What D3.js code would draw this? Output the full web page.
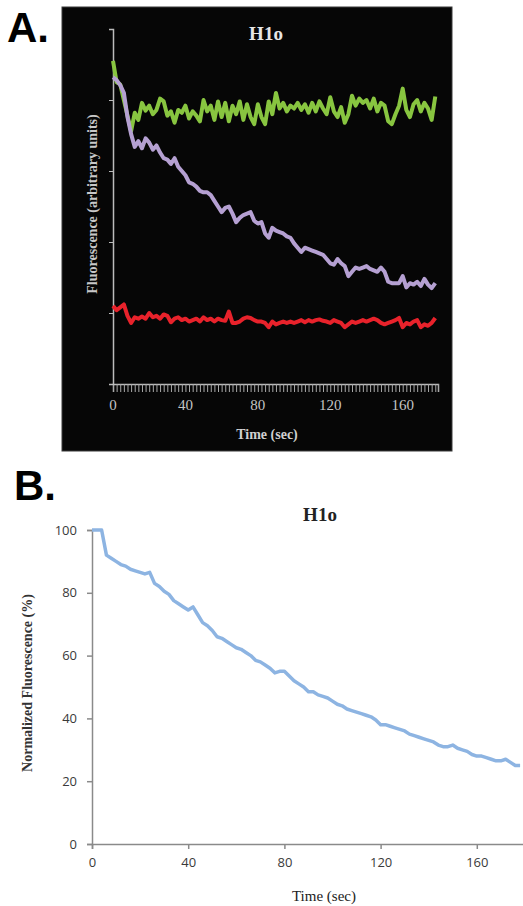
<!DOCTYPE html>
<html>
<head>
<meta charset="utf-8">
<script src="https://cdnjs.cloudflare.com/ajax/libs/d3/7.8.5/d3.min.js"></script>
<style>
  html, body { margin: 0; padding: 0; background: #fff; }
  svg { display: block; }
</style>
</head>
<body>
<div id="chart"></div>
<script>
// sample times (sec), one reading every 2 s
var timeSec = d3.range(0, 180, 2);

// panel A, arbitrary units
var greenA = [
  455, 425, 422, 400, 378, 356, 382, 372, 396, 385,
  392, 380, 386, 402, 398, 378, 384, 368, 386, 382,
  392, 374, 384, 378, 370, 400, 384, 392, 372, 398,
  376, 396, 370, 392, 380, 398, 372, 394, 376, 366,
  394, 376, 366, 398, 380, 410, 388, 396, 384, 392,
  388, 396, 386, 394, 382, 396, 384, 398, 388, 380,
  404, 384, 376, 390, 368, 380, 406, 392, 402, 396,
  400, 388, 402, 384, 396, 392, 370, 366, 380, 392,
  416, 386, 376, 394, 400, 384, 396, 388, 372, 405
];
var purpleA = [
  432, 428, 421, 410, 376, 352, 334, 342, 332, 346,
  340, 330, 336, 326, 318, 316, 310, 318, 306, 300,
  294, 284, 282, 278, 272, 270, 270, 266, 258, 250,
  242, 248, 250, 240, 228, 234, 238, 240, 242, 230,
  226, 228, 212, 206, 220, 216, 214, 212, 208, 206,
  198, 192, 186, 192, 190, 188, 186, 184, 182, 176,
  170, 168, 176, 170, 166, 152, 158, 164, 162, 164,
  166, 162, 160, 158, 164, 158, 144, 142, 142, 142,
  152, 136, 142, 140, 144, 138, 148, 140, 135, 142
];
var redA = [
  110, 104, 108, 112, 96, 86, 94, 92, 95, 92,
  100, 94, 96, 92, 98, 96, 87, 92, 94, 90,
  92, 88, 90, 92, 88, 94, 90, 92, 88, 92,
  90, 89, 102, 86, 86, 88, 92, 94, 93, 90,
  88, 88, 86, 80, 88, 84, 86, 88, 86, 88,
  86, 88, 90, 87, 90, 88, 90, 91, 89, 88,
  86, 90, 88, 86, 80, 84, 88, 86, 88, 90,
  88, 90, 92, 90, 86, 84, 86, 88, 90, 93,
  80, 86, 84, 88, 90, 80, 84, 82, 86, 93
];

// panel B, normalized fluorescence (%)
var normB = [
  100, 100, 100, 92, 91, 90, 89, 88.5, 87.5, 87,
  86.5, 86, 86.5, 83, 82, 80.5, 79.5, 77.5, 76.5, 75.5,
  74.5, 75.5, 73, 70.5, 69.5, 68, 66, 65.5, 64.5, 63.5,
  62.5, 62, 61, 60, 58.5, 58, 57, 56, 54.5, 55,
  55, 53.5, 52, 51, 50, 48.5, 48.5, 47.5, 47, 46.5,
  45.5, 44.5, 44, 43, 42.5, 42, 41.5, 41, 40.5, 39.5,
  38, 38, 37.5, 37, 36.5, 36, 35, 34.5, 34, 33.5,
  33, 32.5, 31.5, 31, 31, 31.5, 30.5, 30, 29.5, 28.5,
  28, 28, 27.5, 27, 26.5, 26.5, 27, 26, 25, 25
];

var ticksAx = [0, 40, 80, 120, 160];
var ticksAy = [0, 100, 200, 300, 400, 500];
var ticksBx = [0, 40, 80, 120, 160];
var ticksBy = [0, 20, 40, 60, 80, 100];

var serif = "'Liberation Serif', 'Times New Roman', serif";
var sans = "'Liberation Sans', Arial, sans-serif";

var svg = d3.select("#chart").append("svg")
    .attr("width", 523)
    .attr("height", 906);

// ---------- panel A ----------
svg.append("text")
    .attr("x", 7).attr("y", 42)
    .style("font-family", sans).style("font-weight", "bold").style("font-size", "42px")
    .text("A.");

svg.append("rect")
    .attr("x", 62).attr("y", 7)
    .attr("width", 390).attr("height", 444)
    .style("fill", "#060606")
    .style("stroke", "#3a3a3a");

var xA = d3.scaleLinear().domain([0, 179.5]).range([113, 438]);
var yA = d3.scaleLinear().domain([0, 500]).range([384, 29]);

var gA = svg.append("g");

gA.append("g")
    .attr("transform", "translate(0,384)")
    .call(d3.axisBottom(xA).tickValues(timeSec.concat([179.5])).tickSize(8).tickFormat(""))
    .call(function(g) {
        g.select(".domain").style("stroke", "#bbb").style("stroke-width", 1.5);
        g.selectAll(".tick line").style("stroke", "#aaa").style("stroke-width", 1);
    });

gA.selectAll(".xlabA")
    .data(ticksAx)
    .enter()
    .append("text")
    .attr("class", "xlabA")
    .attr("x", function(d) { return xA(d); })
    .attr("y", 410)
    .attr("text-anchor", "middle")
    .style("font-family", serif).style("font-size", "15px").style("fill", "#c4c4c4")
    .text(function(d) { return d; });

gA.append("g")
    .attr("transform", "translate(113,0)")
    .call(d3.axisLeft(yA).tickValues(ticksAy).tickSize(4).tickFormat(""))
    .call(function(g) {
        g.select(".domain").style("stroke", "#bbb").style("stroke-width", 1.5);
        g.selectAll(".tick line").style("stroke", "#bbb");
    });

var lineA = function(values) {
    return d3.line()
        .x(function(d, i) { return xA(timeSec[i]); })
        .y(function(d) { return yA(d); })(values);
};

[[greenA, "#88c540"], [purpleA, "#b5a0d2"], [redA, "#e8222b"]].forEach(function(s) {
    gA.append("path")
        .attr("d", lineA(s[0]))
        .style("fill", "none")
        .style("stroke", s[1])
        .style("stroke-width", 4)
        .style("stroke-linejoin", "round");
});

gA.append("text")
    .attr("x", 266).attr("y", 40)
    .attr("text-anchor", "middle")
    .style("font-family", serif).style("font-weight", "bold").style("font-size", "19px")
    .style("fill", "#e6e6e6")
    .text("H1o");

gA.append("text")
    .attr("x", 267).attr("y", 439)
    .attr("text-anchor", "middle")
    .style("font-family", serif).style("font-weight", "bold").style("font-size", "14px")
    .style("fill", "#d0d0d0")
    .text("Time (sec)");

gA.append("text")
    .attr("transform", "translate(97,204) rotate(-90)")
    .attr("text-anchor", "middle")
    .style("font-family", serif).style("font-weight", "bold").style("font-size", "14px")
    .style("fill", "#c8c8c8")
    .text("Fluorescence (arbitrary units)");

// ---------- panel B ----------
svg.append("text")
    .attr("x", 14).attr("y", 500)
    .style("font-family", sans).style("font-weight", "bold").style("font-size", "42px")
    .text("B.");

var xB = d3.scaleLinear().domain([0, 200]).range([92, 573]);
var yB = d3.scaleLinear().domain([0, 100]).range([844, 530]);

var gB = svg.append("g");

gB.append("g")
    .attr("transform", "translate(0,844)")
    .call(d3.axisBottom(xB).tickValues(ticksBx).tickSize(5).tickPadding(9))
    .call(function(g) {
        g.select(".domain").style("stroke", "#8a8a8a").style("stroke-width", 1.5);
        g.selectAll(".tick line").style("stroke", "#8a8a8a").style("stroke-width", 1.5);
        g.selectAll(".tick text")
            .style("font-family", "'Open Sans', sans-serif").style("font-size", "13px")
            .style("fill", "#3a3a3a");
    });

gB.append("g")
    .attr("transform", "translate(92,0)")
    .call(d3.axisLeft(yB).tickValues(ticksBy).tickSize(5).tickPadding(10))
    .call(function(g) {
        g.select(".domain").style("stroke", "#8a8a8a").style("stroke-width", 1.5);
        g.selectAll(".tick line").style("stroke", "#8a8a8a").style("stroke-width", 1.5);
        g.selectAll(".tick text")
            .style("font-family", "'Open Sans', sans-serif").style("font-size", "13px")
            .style("fill", "#3a3a3a");
    });

gB.append("path")
    .datum(normB)
    .attr("d", d3.line()
        .x(function(d, i) { return xB(timeSec[i]); })
        .y(function(d) { return yB(d); }))
    .style("fill", "none")
    .style("stroke", "#8db4e2")
    .style("stroke-width", 3.5)
    .style("stroke-linejoin", "round");

gB.append("text")
    .attr("x", 320).attr("y", 521)
    .attr("text-anchor", "middle")
    .style("font-family", serif).style("font-weight", "bold").style("font-size", "19px")
    .style("fill", "#222")
    .text("H1o");

gB.append("text")
    .attr("x", 324).attr("y", 901)
    .attr("text-anchor", "middle")
    .style("font-family", serif).style("font-size", "15px")
    .style("fill", "#222")
    .text("Time (sec)");

gB.append("text")
    .attr("transform", "translate(32,683) rotate(-90)")
    .attr("text-anchor", "middle")
    .style("font-family", serif).style("font-weight", "bold").style("font-size", "14px")
    .style("fill", "#333")
    .text("Normalized Fluorescence (%)");
</script>
</body>
</html>
